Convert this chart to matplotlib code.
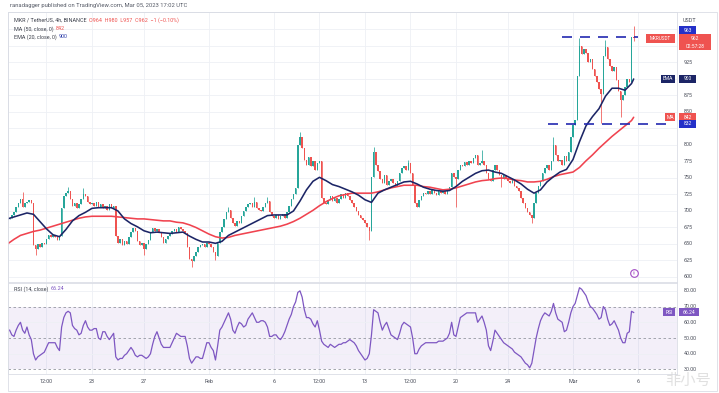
import numpy as np
import pandas as pd
import matplotlib
matplotlib.use("Agg")
import matplotlib.pyplot as plt
import matplotlib.dates as mdates
import matplotlib.transforms as mtransforms
from matplotlib.patches import Rectangle

plt.rcParams['font.family'] = ['Roboto', 'DejaVu Sans']

# ---------------- data ----------------
first_open = 688
closes = [
    690, 694,
    698, 706, 712, 718, 706, 712,   # Jan 17
    714, 716, 712, 648, 642, 650,   # Jan 18
    645, 652, 650, 658, 664, 660,   # Jan 19
    664, 660, 656, 662, 705, 722,   # Jan 20
    728, 730, 718, 708, 712, 705,   # Jan 21
    710, 718, 726, 722, 714, 710,   # Jan 22
    712, 708, 714, 706, 710, 705,   # Jan 23
    708, 702, 710, 704, 708, 662,   # Jan 24
    652, 658, 648, 655, 650, 660,   # Jan 25
    668, 674, 670, 655, 648, 652,   # Jan 26
    642, 650, 656, 668, 674, 670,   # Jan 27
    672, 668, 660, 652, 658, 662,   # Jan 28
    665, 670, 672, 668, 675, 672,   # Jan 29
    670, 666, 645, 628, 624, 632,   # Jan 30
    638, 645, 648, 650, 646, 652,   # Jan 31
    650, 645, 638, 632, 652, 668,   # Feb 1
    675, 688, 698, 702, 690, 682,   # Feb 2
    678, 685, 682, 692, 700, 706,   # Feb 3
    710, 712, 706, 714, 704, 702,   # Feb 4
    700, 706, 712, 715, 698, 692,   # Feb 5
    690, 694, 688, 692, 696, 690,   # Feb 6
    698, 708, 718, 726, 735, 800,   # Feb 7
    812, 795, 778, 770, 782, 768,   # Feb 8
    775, 762, 772, 776, 720, 712,   # Feb 9
    710, 716, 722, 715, 720, 712,   # Feb 10
    718, 725, 720, 728, 722, 716,   # Feb 11
    712, 706, 700, 694, 690, 686,   # Feb 12
    682, 675, 670, 752, 790, 770,   # Feb 13
    760, 748, 742, 755, 740, 745,   # Feb 14
    748, 742, 738, 745, 758, 765,   # Feb 15
    768, 762, 772, 758, 740, 712,   # Feb 16
    706, 716, 722, 728, 725, 730,   # Feb 17
    726, 732, 728, 724, 730, 727,   # Feb 18
    730, 726, 733, 736, 758, 752,   # Feb 19
    748, 762, 770, 768, 774, 770,   # Feb 20
    776, 772, 780, 785, 770, 772,   # Feb 21
    775, 770, 758, 748, 745, 762,   # Feb 22
    770, 762, 755, 748, 755, 750,   # Feb 23
    745, 742, 748, 738, 735, 730,   # Feb 24
    720, 712, 705, 698, 694, 690,   # Feb 25
    712, 728, 738, 745, 758, 765,   # Feb 26
    770, 762, 775, 800, 785, 775,   # Feb 27
    778, 770, 783, 776, 790, 812,   # Feb 28
    830, 838, 905, 950, 938, 945,   # Mar 1
    940, 925, 930, 915, 905, 895,   # Mar 2
    885, 878, 935, 948, 930, 920,   # Mar 3
    912, 918, 898, 882, 868, 875,   # Mar 4
    888, 900, 895, 964, 962,        # Mar 5
]
high_wicks = {
    '2023-01-17 16:00': 729, '2023-01-21 04:00': 736, '2023-01-22 08:00': 735,
    '2023-02-02 12:00': 706, '2023-02-04 12:00': 721, '2023-02-05 12:00': 721,
    '2023-02-08 00:00': 820, '2023-02-13 16:00': 797, '2023-02-16 08:00': 777,
    '2023-02-22 00:00': 792, '2023-02-27 12:00': 812, '2023-03-01 12:00': 962,
    '2023-03-03 12:00': 959, '2023-03-05 16:00': 980,
}
low_wicks = {
    '2023-01-18 16:00': 633, '2023-01-27 00:00': 633, '2023-01-30 16:00': 615,
    '2023-02-01 12:00': 626, '2023-02-13 08:00': 656, '2023-02-20 00:00': 706,
    '2023-02-23 12:00': 736, '2023-02-25 20:00': 682, '2023-03-03 04:00': 833,
    '2023-03-04 16:00': 842, '2023-03-05 16:00': 957,
}
rsi = [
    55, 52,
    51, 55, 58, 60, 55, 53,
    57, 52, 49, 40, 36, 38,
    39, 40, 41, 44, 47, 47,
    47, 47, 44, 42, 57, 63,
    66, 67, 66, 58, 56, 55,
    52, 53, 58, 61, 57, 55,
    55, 56, 56, 50, 49, 54,
    54, 51, 49, 51, 53, 38,
    36, 37, 37, 39, 40, 42,
    44, 42, 39, 38, 39, 39,
    38, 37, 38, 40, 46, 51,
    54, 50, 46, 44, 44, 44,
    44, 47, 50, 53, 52, 51,
    51, 51, 45, 37, 34, 36,
    38, 38, 37, 37, 42, 47,
    47, 44, 42, 36, 45, 55,
    57, 60, 63, 66, 62, 55,
    53, 57, 60, 59, 57, 58,
    62, 64, 66, 63, 60, 60,
    61, 61, 60, 57, 51, 51,
    52, 52, 50, 49, 51, 54,
    58, 62, 65, 70, 73, 79,
    80, 76, 68, 63, 63, 62,
    59, 57, 61, 55, 48, 46,
    45, 44, 46, 45, 44, 45,
    46, 46, 47, 47, 48, 49,
    48, 47, 45, 42, 40, 38,
    36, 37, 40, 52, 68, 67,
    66, 60, 55, 58, 60, 56,
    52, 51, 50, 49, 53, 58,
    60, 59, 58, 57, 50, 40,
    40, 43, 45, 46, 47, 47,
    47, 47, 47, 47, 48, 48,
    48, 49, 50, 53, 60, 52,
    51, 57, 63, 64, 65, 66,
    66, 66, 66, 66, 60, 62,
    64, 60, 55, 45, 42, 48,
    55, 53, 51, 49, 47, 46,
    45, 44, 43, 41, 40, 39,
    38, 36, 34, 33, 31, 34,
    42, 50, 56, 61, 64, 66,
    65, 64, 67, 72, 66, 62,
    61, 60, 54, 55, 60, 66,
    70, 72, 77, 82, 81, 79,
    77, 73, 70, 69, 67, 65,
    62, 63, 70, 68, 62, 58,
    59, 61, 58, 55, 50, 47,
    47, 53, 54, 67, 66.24,
]
ema20 = [688, 691, 694, 697, 695, 684, 673, 664, 661, 672, 685, 693, 698, 704, 705,
         705, 705, 700, 688, 681, 676, 670, 667, 668, 667, 666, 667, 668, 662, 657,
         653, 653, 651, 654, 663, 668, 673, 678, 683, 688, 693, 694, 694, 694, 700,
         715, 732, 745, 751, 746, 740, 737, 733, 729, 724, 717, 713, 727, 732, 736,
         740, 744, 745, 741, 736, 733, 731, 730, 731, 737, 745, 751, 757, 761, 762,
         759, 757, 752, 747, 741, 733, 727, 732, 744, 752, 759, 763, 778, 805, 829,
         843, 855, 874, 886, 886, 883, 893, 900]
ma50 = [650, 657, 663, 666, 669, 671, 674, 677, 680, 683, 686, 689, 691, 692, 692,
        692, 692, 691, 690, 689, 688, 688, 687, 686, 685, 685, 683, 682, 679, 675,
        670, 665, 661, 659, 660, 663, 665, 667, 669, 671, 673, 675, 677, 680, 684,
        689, 695, 701, 708, 714, 719, 723, 725, 727, 727, 727, 727, 729, 732, 735,
        737, 739, 739, 739, 737, 736, 734, 732, 733, 735, 738, 741, 744, 746, 747,
        749, 750, 749, 747, 746, 744, 744, 745, 748, 752, 755, 757, 759, 766, 776,
        785, 795, 804, 813, 821, 829, 837, 842]
level_values = [963, 832]
level_starts = ['2023-02-28 04:00', '2023-02-27 02:00']
level_ends = ['2023-03-06 00:00', '2023-03-08 15:00']
price_tick_labels = [600, 625, 650, 675, 700, 725, 750, 775, 800, 850, 875, 925]
rsi_tick_labels = [80, 70, 60, 50, 40, 30]
date_ticks = ['2023-01-19 12:00', '2023-01-23', '2023-01-27', '2023-02-01', '2023-02-06',
              '2023-02-09 12:00', '2023-02-13', '2023-02-16 12:00', '2023-02-20',
              '2023-02-24', '2023-03-01', '2023-03-06']
date_labels = ['12:00', '23', '27', 'Feb', '6', '12:00', '13', '12:00', '20', '24', 'Mar', '6']

# ---------------- figure ----------------
W, H = 719, 393
fig = plt.figure(figsize=(W / 100, H / 100), dpi=100)
fig.patch.set_facecolor('white')

def fx(px):
    return px / W

def fy(py):
    return 1 - py / H

ax = fig.add_axes([fx(8), fy(282), fx(677) - fx(8), fy(12) - fy(282)])
axr = fig.add_axes([fx(8), fy(374), fx(677) - fx(8), fy(283) - fy(374)], sharex=ax)

t = pd.date_range('2023-01-16 16:00', periods=len(closes), freq='4h')
assert t[-1] == pd.Timestamp('2023-03-05 16:00'), t[-1]
assert len(rsi) == len(closes)
tn = mdates.date2num(t)
opens = [first_open] + closes[:-1]
keys = [ts.strftime('%Y-%m-%d %H:%M') for ts in t]
highs = [high_wicks.get(k, max(o, c)) for k, o, c in zip(keys, opens, closes)]
lows = [low_wicks.get(k, min(o, c)) for k, o, c in zip(keys, opens, closes)]
UP, DN = '#26a69a', '#ef5350'
cols = [UP if c >= o else DN for o, c in zip(opens, closes)]

ax.vlines(tn, lows, highs, colors=cols, lw=0.55, zorder=3)
bh = np.array(closes, float) - np.array(opens, float)
bh[bh == 0] = 0.8
ax.bar(tn, bh, bottom=opens, width=0.12, color=cols, linewidth=0, zorder=4)

mt = list(pd.date_range('2023-01-16 12:00', '2023-03-05 12:00', freq='12h')) + [pd.Timestamp('2023-03-05 16:00')]
assert len(mt) == len(ema20) == len(ma50), (len(mt), len(ema20), len(ma50))
mtn = mdates.date2num(mt)
ax.plot(mtn, ma50, color='#f0434f', lw=1.15, zorder=5, solid_capstyle='round')
ax.plot(mtn, ema20, color='#1c2566', lw=1.15, zorder=6, solid_capstyle='round')

for lv, s, e in zip(level_values, level_starts, level_ends):
    ax.plot(mdates.date2num([pd.Timestamp(s), pd.Timestamp(e)]), [lv, lv],
            color='#2229b0', lw=1.2, dashes=(6, 4.8), zorder=7)

xl = mdates.date2num([pd.Timestamp('2023-01-16 13:00'), pd.Timestamp('2023-03-09 00:00')])
ax.set_xlim(*xl)
ax.set_ylim(592.4, 1001.5)
axr.set_ylim(27.1, 85)

tick_nums = mdates.date2num([pd.Timestamp(d) for d in date_ticks])
grid_c = '#eef0f5'
for a in (ax, axr):
    for xn in tick_nums:
        a.axvline(xn, color=grid_c, lw=0.6, zorder=0)
    for sp in a.spines.values():
        sp.set_color('#dadde5')
        sp.set_linewidth(0.6)
    a.tick_params(length=0)
for p in range(600, 1000, 25):
    ax.axhline(p, color=grid_c, lw=0.6, zorder=0)
ax.set_yticks([])
axr.set_yticks([])
plt.setp(ax.get_xticklabels(), visible=False)
axr.set_xticks(tick_nums)
axr.set_xticklabels(date_labels, fontsize=3.9, color='#4a4e5a')
axr.tick_params(axis='x', pad=3.6)

# RSI pane
axr.axhspan(30, 70, color='#7e57c2', alpha=0.09, lw=0, zorder=0)
for v in (80, 60, 40):
    axr.axhline(v, color=grid_c, lw=0.6, zorder=0)
for v in (70, 50, 30):
    axr.axhline(v, color='#9598a1', lw=0.6, dashes=(3, 3), zorder=1)
axr.plot(tn, rsi, color='#7e57c2', lw=0.9, zorder=3)

# event icon
bt = mtransforms.blended_transform_factory(ax.transData, ax.transAxes)
ax.plot([tn[-1]], [0.033], transform=bt, marker='o', ms=5.5, mfc='white',
        mec='#a24cc4', mew=0.8, zorder=8, clip_on=False)
ax.text(tn[-1], 0.033, 'ǂ', transform=bt, fontsize=3.2, color='#a24cc4',
        ha='center', va='center', zorder=9)

# ---------------- texts ----------------
fig.canvas.draw()
ident = mtransforms.IdentityTransform()

def ypix(a, v):
    return a.transData.transform((0, v))[1]

def seq_text(x_px, y_px, parts, fs):
    r = fig.canvas.get_renderer()
    x = x_px
    for s, c in parts:
        tt = fig.text(fx(x), fy(y_px), s, fontsize=fs, color=c, va='center', ha='left')
        bb = tt.get_window_extent(renderer=r)
        x += bb.width + 2.2

fig.text(fx(10), fy(6), 'ranadagger published on TradingView.com, Mar 05, 2023 17:02 UTC',
         fontsize=4.2, color='#555a66', va='center')
seq_text(14, 20, [('MKR / TetherUS, 4h, BINANCE', '#3b3f4a'),
                  ('O964  H980  L957  C962  −1 (−0.10%)', '#ef5350')], 3.9)
seq_text(14, 29, [('MA (50, close, 0)', '#3b3f4a'), ('842', '#ef5350')], 3.9)
seq_text(14, 37, [('EMA (20, close, 0)', '#3b3f4a'), ('900', '#2a3aa8')], 3.9)
seq_text(14, 289, [('RSI (14, close)', '#3b3f4a'), ('66.24', '#7e57c2')], 3.9)

def axis_label(a, v, s):
    fig.text(684 / W, ypix(a, v) / H, s, fontsize=3.9, color='#4a4e5a', va='center',
             ha='left', zorder=2)

for p in price_tick_labels:
    axis_label(ax, p, str(p))
for v in rsi_tick_labels:
    axis_label(axr, v, f'{v:.2f}')
fig.text(fx(683), fy(20), 'USDT', fontsize=3.9, color='#4a4e5a', va='center', ha='left')

def tag(x0, x1, yc, h, color, lines, fs=3.6):
    """yc: display y (pixels from bottom) of the box centre"""
    fig.add_artist(Rectangle((x0, yc - h / 2), x1 - x0, h, transform=ident,
                             facecolor=color, edgecolor='none', zorder=20))
    n = len(lines)
    for i, s in enumerate(lines):
        yy = yc + h / 2 - (i + 0.5) * h / n
        fig.text((x0 + x1) / 2 / W, yy / H, s, fontsize=fs, color='white',
                 ha='center', va='center', zorder=21)

yb = ypix(ax, 963)
tag(679, 696, yb + 7, 8, '#2430c8', ['963'])
yp = ypix(ax, 962)
tag(679, 711, yp - 4, 16, '#ef5350', ['962', '02:57:28'])
tag(646, 675, yp, 9, '#ef5350', ['MKRUSDT'], fs=3.3)
ye = ypix(ax, 900)
tag(661, 675, ye, 8, '#1c2566', ['EMA'])
tag(679, 696, ye, 8, '#1c2566', ['900'])
ym = ypix(ax, 842)
tag(665, 675, ym, 8, '#ef5350', ['MA'])
tag(679, 696, ym, 8, '#ef5350', ['842'])
tag(679, 696, ypix(ax, 832), 8, '#2430c8', ['832'])
yr = ypix(axr, 66.24)
tag(663, 675, yr, 8, '#7e57c2', ['RSI'])
tag(679, 699, yr, 8, '#7e57c2', ['66.24'])

# outer frame
fig.add_artist(Rectangle((8, H - 391), 709, 379, transform=ident, fill=False,
                         edgecolor='#dadde5', lw=0.6, zorder=1))

# watermark
fig.text(fx(688), fy(380), '非小号', fontsize=11, color='#d4d4d4', alpha=0.7,
         ha='center', va='center', family=['Noto Sans CJK SC', 'DejaVu Sans'], zorder=30)

fig.savefig('out.png', dpi=100, facecolor='white')
